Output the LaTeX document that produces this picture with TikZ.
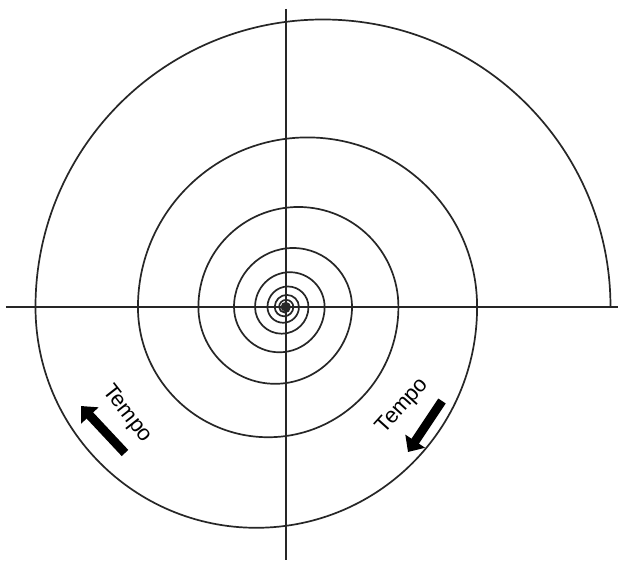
\documentclass[tikz,border=0pt]{standalone}
\usepackage{fontspec}
\setmainfont{Liberation Sans}
\usetikzlibrary{arrows.meta}
\tikzset{
  spiralline/.style={line width=1.7pt, black!85},
  axisline/.style={line width=1.6pt, black!85},
  tempolabel/.style={font=\fontsize{22}{22}\selectfont, inner sep=0pt},
  timearrow/.style={line width=9pt, -{Triangle[length=13pt,width=23pt]}}
}
\begin{document}
\begin{tikzpicture}[x=1pt,y=1pt]
\useasboundingbox[fill=white] (-286,-255) rectangle (336,307);
% axes
\coordinate (hl) at (-280,0);
\coordinate (hr) at (332,0);
\coordinate (vt) at (0,298);
\coordinate (vb) at (0,-253);
\draw[axisline] (hl) -- (hr);
\draw[axisline] (vt) -- (vb);
% spiral of semicircles
\coordinate (s0) at (324.5,0);
\draw[spiralline] (s0)
  \foreach \i [evaluate=\i as \ra using 287.5*0.768^(2*\i),
               evaluate=\i as \rb using 287.5*0.768^(2*\i+1)] in {0,...,16} {
    arc[start angle=0,end angle=180,radius=\ra pt]
    arc[start angle=180,end angle=360,radius=\rb pt]
  };
% labels
\node[tempolabel, rotate=-52] (tl) at (-159,-107) {Tempo};
\node[tempolabel, rotate=48] (tr) at (117,-99) {Tempo};
% arrows
\coordinate (la1) at (-161,-146);
\coordinate (la2) at (-205,-99);
\coordinate (ra1) at (156,-94);
\coordinate (ra2) at (122,-145);
\draw[timearrow] (la1) -- (la2);
\draw[timearrow] (ra1) -- (ra2);
\end{tikzpicture}
\end{document}
